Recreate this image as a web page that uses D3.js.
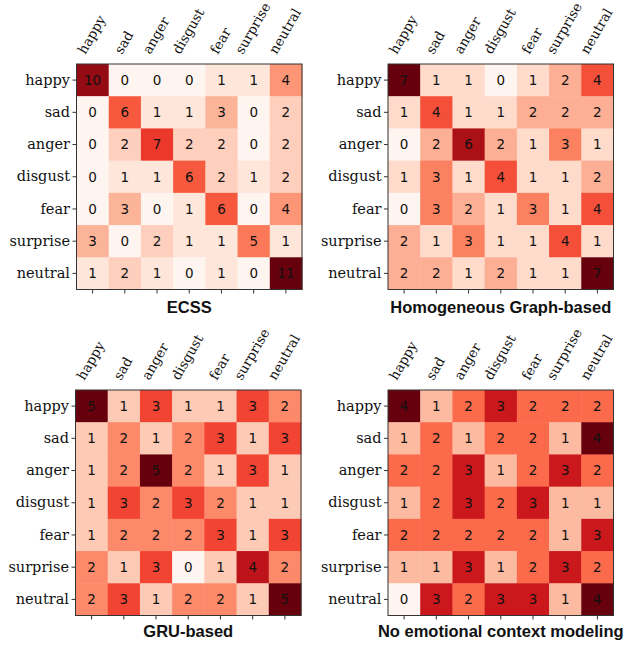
<!DOCTYPE html>
<html>
<head>
<meta charset="utf-8">
<script src="https://cdn.jsdelivr.net/npm/d3@7"></script>
<style>
  body { margin: 0; background: #fff; }
  .tick text { fill: #111; }
</style>
</head>
<body>
<div id="chart-area"></div>
<script>
// Data
const emotions = ["happy", "sad", "anger", "disgust", "fear", "surprise", "neutral"];

const ecss = [
    [10, 0, 0, 0, 1, 1, 4],
    [0, 6, 1, 1, 3, 0, 2],
    [0, 2, 7, 2, 2, 0, 2],
    [0, 1, 1, 6, 2, 1, 2],
    [0, 3, 0, 1, 6, 0, 4],
    [3, 0, 2, 1, 1, 5, 1],
    [1, 2, 1, 0, 1, 0, 11]
];

const homoGraph = [
    [7, 1, 1, 0, 1, 2, 4],
    [1, 4, 1, 1, 2, 2, 2],
    [0, 2, 6, 2, 1, 3, 1],
    [1, 3, 1, 4, 1, 1, 2],
    [0, 3, 2, 1, 3, 1, 4],
    [2, 1, 3, 1, 1, 4, 1],
    [2, 2, 1, 2, 1, 1, 7]
];

const gruBased = [
    [5, 1, 3, 1, 1, 3, 2],
    [1, 2, 1, 2, 3, 1, 3],
    [1, 2, 5, 2, 1, 3, 1],
    [1, 3, 2, 3, 2, 1, 1],
    [1, 2, 2, 2, 3, 1, 3],
    [2, 1, 3, 0, 1, 4, 2],
    [2, 3, 1, 2, 2, 1, 5]
];

const noContext = [
    [4, 1, 2, 3, 2, 2, 2],
    [1, 2, 1, 2, 2, 1, 4],
    [2, 2, 3, 1, 2, 3, 2],
    [1, 2, 3, 2, 3, 1, 1],
    [2, 2, 2, 2, 2, 1, 3],
    [1, 1, 3, 1, 2, 3, 2],
    [0, 3, 2, 3, 3, 1, 4]
];

const titles = ["ECSS", "Homogeneous Graph-based", "GRU-based", "No emotional context modeling"];
const matrices = [ecss, homoGraph, gruBased, noContext];

/* SVG */
const svg = d3.select("#chart-area")
    .append("svg")
    .attr("width", 627)
    .attr("height", 647);

// panel layout (plot area of each matrix)
const panels = [
    { left: 76.5, top: 64, titleY: 313 },
    { left: 388, top: 64, titleY: 313 },
    { left: 75.5, top: 390, titleY: 637 },
    { left: 388, top: 390, titleY: 637 }
];
const size = 225.5;
const labelFs = 14.5;
const topFs = 13.5;

matrices.forEach((m, i) => drawMatrix(panels[i], m, titles[i]));

function drawMatrix(p, matrix, title) {
    const g = svg.append("g")
        .attr("transform", `translate(${p.left}, ${p.top})`);

    const x = d3.scaleBand().domain(emotions).range([0, size]);
    const y = d3.scaleBand().domain(emotions).range([0, size]);

    const flat = matrix.flat();
    const lo = d3.min(flat), hi = d3.max(flat);
    const reds = d3.schemeReds[9];
    const color = d3.scaleLinear()
        .domain(reds.map((c, k) => lo + (hi - lo) * k / (reds.length - 1)))
        .range(reds)
        .interpolate(d3.interpolateRgb);

    const cells = [];
    matrix.forEach((row, r) => row.forEach((v, c) => cells.push({ r: emotions[r], c: emotions[c], v })));

    /* Cells */
    g.selectAll("rect.cell")
        .data(cells)
        .join("rect")
        .attr("class", "cell")
        .attr("x", d => x(d.c))
        .attr("y", d => y(d.r))
        .attr("width", x.bandwidth() + 0.5)
        .attr("height", y.bandwidth() + 0.5)
        .attr("fill", d => color(d.v));

    g.selectAll("text.val")
        .data(cells)
        .join("text")
        .attr("class", "val")
        .attr("x", d => x(d.c) + x.bandwidth() / 2)
        .attr("y", d => y(d.r) + y.bandwidth() / 2)
        .attr("dy", "0.36em")
        .attr("text-anchor", "middle")
        .attr("font-family", "DejaVu Sans")
        .attr("font-size", 13.5)
        .attr("fill", "#111")
        .text(d => d.v);

    /* Axis */
    const yAxis = g.append("g")
        .call(d3.axisLeft(y).tickSize(4).tickPadding(2.5));
    yAxis.select(".domain").remove();
    yAxis.selectAll("text")
        .attr("font-family", "DejaVu Serif")
        .attr("font-size", labelFs);

    const xAxis = g.append("g")
        .attr("transform", `translate(0,${size})`)
        .call(d3.axisBottom(x).tickSize(4).tickFormat(""));
    xAxis.select(".domain").remove();

    // rotated labels on top
    const a = 0.76 * topFs, dsc = 0.23 * topFs;
    const topAxis = g.append("g")
        .call(d3.axisTop(x).tickSize(0));
    topAxis.select(".domain").remove();
    topAxis.selectAll("text")
        .attr("font-family", "DejaVu Serif")
        .attr("font-size", topFs)
        .attr("text-anchor", "start")
        .attr("dy", null)
        .attr("y", 0)
        .attr("transform", function () {
            const w = this.getComputedTextLength();
            const ax = -(0.5 * w + 0.866 * (dsc - a)) / 2;
            return `translate(${ax},-9) rotate(-60)`;
        });

    g.selectAll(".tick line").attr("stroke", "#333");

    /* Frame */
    g.append("rect")
        .attr("width", size)
        .attr("height", size)
        .attr("fill", "none")
        .attr("stroke", "#333")
        .attr("stroke-width", 1);

    /* Title */
    svg.append("text")
        .attr("x", p.left + size / 2)
        .attr("y", p.titleY)
        .attr("text-anchor", "middle")
        .attr("font-family", "Liberation Sans, Arial, sans-serif")
        .attr("font-weight", "bold")
        .attr("font-size", 16.5)
        .attr("fill", "#111")
        .text(title);
}
</script>
</body>
</html>
